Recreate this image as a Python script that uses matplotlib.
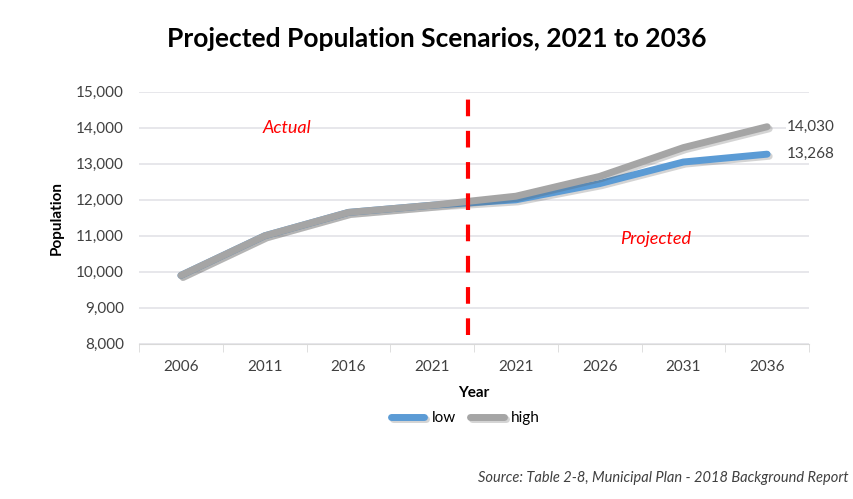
import matplotlib
matplotlib.use("Agg")
import matplotlib.pyplot as plt
import matplotlib.patheffects as pe
import numpy as np

years = ["2006", "2011", "2016", "2021", "2021", "2026", "2031", "2036"]
low = [9900, 11000, 11650, 11850, 12000, 12450, 13050, 13268]
high = [9900, 11000, 11650, 11850, 12100, 12650, 13450, 14030]
yticks = [8000, 9000, 10000, 11000, 12000, 13000, 14000, 15000]

plt.rcParams['font.family'] = ['Lato', 'DejaVu Sans']

fig = plt.figure(figsize=(8.54, 4.99), dpi=100)
ax = fig.add_axes([0.1628, 0.311, 0.7845, 0.505])

x = np.arange(len(years))
shadow = [pe.SimpleLineShadow(offset=(1.5, -1.5), alpha=0.25, shadow_color='#555555'), pe.Normal()]
ax.plot(x, low, color='#5B9BD5', lw=5, solid_capstyle='round', path_effects=shadow, zorder=3, label='low')
ax.plot(x, high, color='#A5A5A5', lw=5, solid_capstyle='round', path_effects=shadow, zorder=4, label='high')

ax.set_xlim(-0.5, len(years) - 0.5)
ax.set_ylim(8000, 15000)
ax.set_yticks(yticks)
ax.set_yticklabels([f"{v:,}" for v in yticks], fontsize=11, color='#404040')
ax.set_xticks(x)
ax.set_xticklabels(years, fontsize=11, color='#404040')
ax.set_xticks(np.arange(-0.5, len(years)), minor=True)
ax.tick_params(axis='x', which='major', length=0, pad=12)
ax.tick_params(axis='x', which='minor', length=6, color='#D9D9D9')
ax.tick_params(axis='y', length=0, pad=11)
ax.grid(axis='y', color='#E3E3E8', lw=1.2)
ax.set_axisbelow(True)
for s in ['top', 'right', 'left']:
    ax.spines[s].set_visible(False)
ax.spines['bottom'].set_color('#D9D9D9')

# divider between actual and projected values
ax.plot([3.43, 3.43], [8250, 14900], color='#FF0000', lw=3, ls=(0, (4, 3.5)), zorder=5)
ax.text(1.27, 14000, "Actual", color='#FF0000', fontsize=13, style='italic', ha='center', va='center')
ax.text(5.67, 10920, "Projected", color='#FF0000', fontsize=13, style='italic', ha='center', va='center')

label_box = dict(facecolor='white', edgecolor='none', pad=0.5)
ax.text(7.24, high[-1], f"{high[-1]:,}", fontsize=11, color='#404040', ha='left', va='center',
        clip_on=False, bbox=label_box, zorder=6)
ax.text(7.24, low[-1], f"{low[-1]:,}", fontsize=11, color='#404040', ha='left', va='center',
        clip_on=False, bbox=label_box, zorder=6)

ax.set_xlabel("Year", fontsize=11, fontweight='bold', labelpad=8)
ax.set_ylabel("Population", fontsize=11, fontweight='bold')
ax.yaxis.set_label_coords(-0.112, 0.5)

fig.suptitle("Projected Population Scenarios, 2021 to 2036", fontsize=19, fontweight='bold', x=0.512, y=0.945)

leg = fig.legend(loc='center', bbox_to_anchor=(0.545, 0.162), ncol=2, frameon=False, fontsize=11,
                 handlelength=2.2, handletextpad=0.5, columnspacing=0.9)

fig.text(0.994, 0.042, "Source: Table 2-8, Municipal Plan - 2018 Background Report", fontsize=10.5,
         style='italic', color='#404040', ha='right', va='center')

fig.savefig("out.png", dpi=100, facecolor='white')
